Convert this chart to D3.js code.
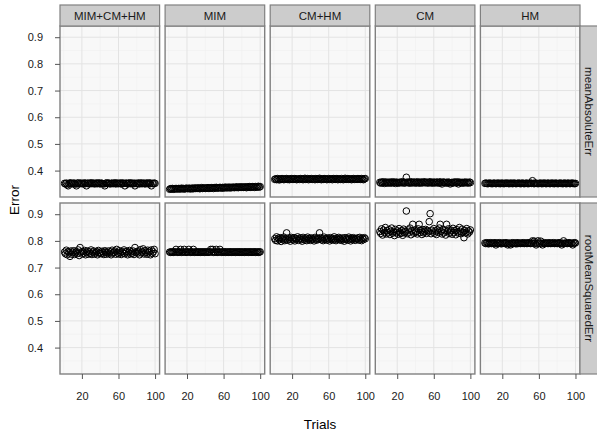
<!DOCTYPE html>
<html>
<head>
<meta charset="utf-8">
<script src="https://cdn.jsdelivr.net/npm/d3@7"></script>
<style>
  body { margin: 0; background: #fff; }
  text { font-family: "Liberation Sans", Arial, sans-serif; }
</style>
</head>
<body>
<div id="chart"></div>
<script>
// facet labels
const columns = ["MIM+CM+HM", "MIM", "CM+HM", "CM", "HM"];
const rows = ["meanAbsoluteErr", "rootMeanSquaredErr"];
const yTicks = [0.4, 0.5, 0.6, 0.7, 0.8, 0.9];
const xTicks = [20, 60, 100];

// error per trial (trials 1..100)
const maeAll = [
  .352,.350,.353,.347,.343,.351,.354,.352,.350,.353,
  .351,.353,.349,.343,.352,.354,.350,.352,.353,.351,
  .352,.350,.354,.351,.343,.352,.353,.350,.352,.354,
  .351,.353,.352,.350,.353,.352,.351,.354,.352,.350,
  .353,.352,.351,.350,.343,.352,.354,.351,.353,.352,
  .350,.352,.353,.351,.352,.354,.350,.353,.352,.351,
  .353,.352,.350,.354,.351,.352,.343,.353,.352,.350,
  .352,.354,.351,.353,.352,.350,.353,.343,.352,.351,
  .353,.352,.350,.354,.352,.351,.353,.352,.350,.353,
  .352,.351,.354,.350,.353,.343,.352,.351,.353,.352];
const maeMim = [
  .330,.332,.331,.333,.330,.332,.331,.333,.332,.331,
  .333,.332,.331,.334,.332,.333,.331,.332,.334,.333,
  .332,.334,.333,.331,.334,.333,.332,.335,.333,.334,
  .333,.335,.334,.332,.334,.336,.333,.335,.334,.333,
  .335,.334,.336,.333,.335,.334,.336,.335,.333,.336,
  .335,.337,.334,.336,.335,.337,.336,.334,.337,.335,
  .336,.338,.335,.337,.336,.338,.335,.337,.336,.338,
  .337,.336,.338,.337,.339,.336,.338,.337,.339,.337,
  .338,.337,.339,.338,.336,.339,.338,.340,.337,.339,
  .338,.340,.339,.337,.340,.338,.339,.341,.338,.340];
const maeCmHm = [
  .367,.369,.366,.370,.368,.365,.369,.367,.370,.368,
  .366,.369,.368,.370,.367,.369,.366,.368,.370,.367,
  .369,.367,.370,.368,.366,.369,.368,.367,.370,.369,
  .368,.366,.369,.371,.367,.368,.370,.366,.369,.368,
  .370,.367,.368,.369,.366,.370,.368,.367,.369,.371,
  .368,.366,.369,.367,.370,.368,.369,.366,.368,.370,
  .367,.369,.368,.366,.370,.369,.367,.368,.370,.366,
  .369,.368,.367,.370,.368,.366,.369,.371,.367,.368,
  .370,.367,.369,.368,.366,.369,.370,.367,.368,.369,
  .367,.370,.368,.369,.367,.370,.368,.366,.369,.370];
const maeCm = [
  .356,.353,.357,.354,.358,.352,.355,.357,.353,.356,
  .354,.357,.353,.355,.358,.354,.356,.352,.357,.355,
  .353,.356,.354,.357,.355,.358,.353,.356,.354,.375,
  .357,.354,.356,.353,.358,.355,.354,.357,.356,.353,
  .355,.358,.354,.356,.353,.357,.355,.354,.358,.356,
  .354,.357,.355,.353,.356,.358,.354,.356,.353,.357,
  .355,.354,.357,.356,.353,.355,.358,.354,.350,.356,
  .357,.355,.354,.356,.353,.357,.355,.350,.354,.356,
  .353,.356,.357,.355,.354,.358,.350,.355,.356,.354,
  .356,.353,.355,.357,.354,.356,.355,.353,.357,.355];
const maeHm = [
  .352,.353,.352,.351,.352,.353,.352,.352,.351,.352,
  .353,.352,.351,.352,.353,.352,.352,.351,.353,.352,
  .352,.351,.353,.352,.352,.353,.351,.352,.352,.353,
  .351,.352,.353,.352,.351,.352,.352,.353,.352,.351,
  .352,.353,.352,.351,.352,.352,.353,.351,.352,.352,
  .353,.352,.362,.352,.351,.353,.352,.352,.351,.352,
  .352,.353,.351,.352,.352,.353,.352,.351,.352,.353,
  .352,.351,.352,.353,.352,.352,.351,.353,.352,.352,
  .351,.352,.353,.352,.352,.351,.352,.353,.352,.351,
  .352,.353,.352,.351,.352,.353,.352,.352,.351,.352];
const rmseAll = [
  .758,.752,.765,.748,.760,.755,.742,.762,.750,.757,
  .763,.749,.756,.760,.752,.766,.745,.775,.758,.751,
  .760,.754,.764,.748,.757,.762,.750,.759,.753,.766,
  .749,.758,.762,.751,.756,.760,.748,.764,.754,.757,
  .752,.761,.755,.749,.763,.758,.750,.756,.762,.753,
  .759,.748,.765,.754,.757,.762,.750,.768,.755,.751,
  .763,.756,.749,.760,.754,.766,.752,.758,.761,.748,
  .757,.764,.751,.759,.753,.762,.749,.775,.756,.760,
  .754,.762,.748,.767,.755,.759,.770,.751,.763,.757,
  .750,.765,.756,.761,.748,.766,.753,.759,.768,.752];
const rmseMim = [
  .758,.757,.759,.758,.757,.758,.759,.768,.758,.757,
  .759,.758,.768,.757,.758,.759,.768,.758,.757,.758,
  .759,.768,.758,.757,.759,.758,.768,.757,.758,.759,
  .758,.757,.759,.758,.757,.758,.759,.758,.757,.758,
  .759,.758,.757,.758,.759,.768,.758,.768,.757,.759,
  .758,.768,.757,.758,.759,.768,.758,.757,.758,.759,
  .758,.757,.759,.758,.757,.758,.759,.758,.757,.758,
  .759,.758,.757,.758,.759,.758,.757,.759,.758,.757,
  .758,.759,.757,.758,.759,.758,.757,.758,.759,.758,
  .757,.758,.759,.758,.757,.759,.758,.757,.758,.759];
const rmseCmHm = [
  .808,.802,.815,.800,.810,.805,.812,.798,.809,.804,
  .814,.801,.807,.830,.803,.811,.806,.799,.813,.808,
  .804,.812,.800,.809,.806,.815,.802,.808,.811,.805,
  .799,.813,.807,.803,.810,.801,.814,.806,.809,.802,
  .811,.805,.808,.800,.813,.807,.803,.810,.806,.830,
  .812,.804,.808,.801,.814,.806,.809,.803,.811,.807,
  .800,.812,.805,.809,.803,.815,.807,.801,.810,.806,
  .813,.804,.808,.802,.811,.806,.799,.812,.805,.809,
  .803,.814,.807,.800,.810,.805,.812,.808,.802,.809,
  .806,.811,.803,.813,.807,.801,.810,.805,.812,.808];
const rmseCm = [
  .835,.828,.845,.822,.840,.832,.850,.826,.838,.830,
  .842,.824,.836,.848,.829,.834,.820,.843,.831,.837,
  .825,.846,.833,.828,.839,.821,.844,.830,.836,.912,
  .827,.841,.833,.848,.823,.837,.862,.829,.840,.832,
  .835,.826,.845,.862,.831,.838,.824,.842,.830,.836,
  .843,.828,.839,.834,.872,.902,.827,.840,.833,.846,
  .829,.837,.824,.841,.832,.848,.862,.835,.826,.843,
  .830,.838,.822,.862,.836,.845,.828,.833,.840,.825,
  .847,.831,.838,.823,.842,.834,.829,.850,.836,.827,
  .844,.832,.812,.839,.830,.846,.826,.837,.833,.841];
const rmseHm = [
  .792,.790,.793,.791,.789,.792,.793,.790,.791,.792,
  .790,.793,.785,.791,.792,.790,.793,.791,.789,.792,
  .791,.792,.790,.793,.791,.785,.792,.790,.785,.791,
  .793,.790,.792,.791,.789,.793,.790,.792,.791,.790,
  .792,.791,.793,.790,.792,.791,.790,.793,.792,.791,
  .790,.792,.800,.791,.799,.792,.785,.790,.800,.791,
  .792,.799,.790,.785,.791,.793,.790,.792,.791,.790,
  .793,.791,.790,.792,.791,.793,.790,.791,.792,.790,
  .791,.793,.790,.792,.785,.791,.800,.790,.792,.791,
  .790,.792,.793,.791,.790,.792,.785,.791,.793,.792];

const seriesByPanel = [
  [maeAll, maeMim, maeCmHm, maeCm, maeHm],
  [rmseAll, rmseMim, rmseCmHm, rmseCm, rmseHm]
];

// layout
const W = 597, H = 433;
const plotLeft = 60, plotRight = 580, plotTop = 26;
const panelGap = 5.5, rowGap = 6;
const panelW = (plotRight - plotLeft - panelGap * (columns.length - 1)) / columns.length;
const panelH = 171;
const stripH = 21, stripW = 18;

const svg = d3.select("#chart").append("svg")
  .attr("width", W).attr("height", H);

const x = d3.scaleLinear().domain([-3.95, 104.95]).range([0, panelW]);
const y = d3.scaleLinear().domain([0.301, 0.942]).range([panelH, 0]);

const borderCol = "#808080";

rows.forEach((rowName, ri) => {
  const py = plotTop + ri * (panelH + rowGap);
  columns.forEach((colName, ci) => {
    const px = plotLeft + ci * (panelW + panelGap);
    const g = svg.append("g").attr("transform", `translate(${px},${py})`);

    g.append("rect")
      .attr("width", panelW).attr("height", panelH)
      .attr("fill", "#F8F8F8");

    // minor grid
    [0, 40, 80].forEach(v => {
      g.append("line").attr("x1", x(v)).attr("x2", x(v))
        .attr("y1", 0).attr("y2", panelH)
        .attr("stroke", "#F0F0F0").attr("stroke-width", 0.6);
    });
    [0.35, 0.45, 0.55, 0.65, 0.75, 0.85].forEach(v => {
      g.append("line").attr("x1", 0).attr("x2", panelW)
        .attr("y1", y(v)).attr("y2", y(v))
        .attr("stroke", "#F0F0F0").attr("stroke-width", 0.6);
    });
    // major grid
    xTicks.forEach(v => {
      g.append("line").attr("x1", x(v)).attr("x2", x(v))
        .attr("y1", 0).attr("y2", panelH)
        .attr("stroke", "#E3E3E3").attr("stroke-width", 1);
    });
    yTicks.forEach(v => {
      g.append("line").attr("x1", 0).attr("x2", panelW)
        .attr("y1", y(v)).attr("y2", y(v))
        .attr("stroke", "#E3E3E3").attr("stroke-width", 1);
    });

    // points
    const vals = seriesByPanel[ri][ci];
    g.selectAll("circle")
      .data(vals)
      .enter().append("circle")
      .attr("cx", (d, i) => x(i + 1))
      .attr("cy", d => y(d))
      .attr("r", 3.3)
      .attr("fill", "none")
      .attr("stroke", "#000")
      .attr("stroke-width", 1);

    g.append("rect")
      .attr("width", panelW).attr("height", panelH)
      .attr("fill", "none").attr("stroke", borderCol).attr("stroke-width", 1.4);

    // column strips on top row
    if (ri === 0) {
      const s = svg.append("g").attr("transform", `translate(${px},${plotTop - stripH})`);
      s.append("rect").attr("width", panelW).attr("height", stripH)
        .attr("fill", "#CCCCCC").attr("stroke", borderCol).attr("stroke-width", 1.2);
      s.append("text").attr("x", panelW / 2).attr("y", stripH / 2 + 4)
        .attr("text-anchor", "middle").attr("font-size", "11.5px").attr("fill", "#1a1a1a")
        .text(colName);
    }

    // x axis on bottom row
    if (ri === rows.length - 1) {
      const ax = svg.append("g").attr("transform", `translate(${px},${py + panelH})`)
        .call(d3.axisBottom(x).tickValues(xTicks).tickSize(5).tickPadding(13).tickFormat(d3.format("d")));
      ax.select(".domain").remove();
      ax.selectAll("line").attr("stroke", "#555");
      ax.selectAll("text").attr("font-size", "11px").attr("fill", "#1a1a1a")
        .style("font-family", "Liberation Sans, Arial, sans-serif");
    }
  });

  // y axis on each row
  const ay = svg.append("g").attr("transform", `translate(${plotLeft},${py})`)
    .call(d3.axisLeft(y).tickValues(yTicks).tickSize(5).tickPadding(12).tickFormat(d3.format(".1f")));
  ay.select(".domain").remove();
  ay.selectAll("line").attr("stroke", "#555");
  ay.selectAll("text").attr("font-size", "11px").attr("fill", "#1a1a1a")
    .style("font-family", "Liberation Sans, Arial, sans-serif");

  // row strip on right
  const rs = svg.append("g").attr("transform", `translate(${plotRight},${py})`);
  rs.append("rect").attr("width", stripW).attr("height", panelH)
    .attr("fill", "#CCCCCC").attr("stroke", borderCol).attr("stroke-width", 1.2);
  rs.append("text")
    .attr("transform", `translate(${stripW / 2 - 4},${panelH / 2}) rotate(90)`)
    .attr("text-anchor", "middle").attr("font-size", "11.5px").attr("fill", "#1a1a1a")
    .text(rowName);
});

// axis titles
svg.append("text")
  .attr("x", (plotLeft + plotRight) / 2).attr("y", 429)
  .attr("text-anchor", "middle").attr("font-size", "13.5px").attr("fill", "#000")
  .text("Trials");

svg.append("text")
  .attr("transform", `translate(19,${plotTop + panelH + rowGap / 2}) rotate(-90)`)
  .attr("text-anchor", "middle").attr("font-size", "13.5px").attr("fill", "#000")
  .text("Error");
</script>
</body>
</html>
